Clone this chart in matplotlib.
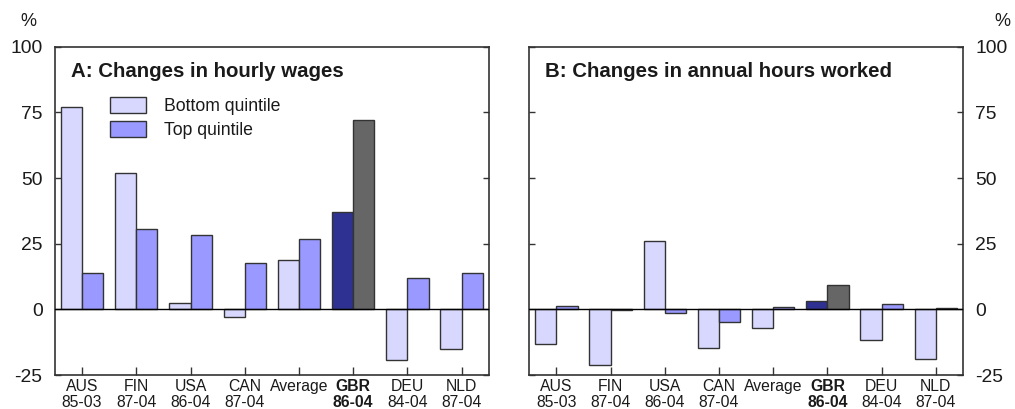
import matplotlib
matplotlib.use("Agg")
import matplotlib.pyplot as plt
import matplotlib.patches as mpatches
import numpy as np

plt.rcParams['font.family'] = ['Liberation Sans', 'DejaVu Sans']
plt.rcParams['axes.unicode_minus'] = False

labels = ["AUS\n85-03", "FIN\n87-04", "USA\n86-04", "CAN\n87-04",
          "Average", "GBR\n86-04", "DEU\n84-04", "NLD\n87-04"]
wage_bottom = [77.2, 51.8, 2.3, -2.8, 18.8, 37.0, -19.3, -15.0]
wage_top = [13.7, 30.5, 28.4, 17.7, 26.8, 72.1, 11.9, 13.8]
hours_bottom = [-13.2, -21.2, 26.1, -14.7, -7.2, 3.2, -11.7, -18.9]
hours_top = [1.3, -0.2, -1.5, -4.7, 1.0, 9.3, 2.0, 0.5]
highlight = 5  # GBR

light = '#d8d8ff'
mid = '#9999ff'
navy = '#2e3192'
grey = '#666666'
edge = '#333333'
txt = '#1a1a1a'

fig = plt.figure(figsize=(10.15, 4.09), dpi=100)
axA = fig.add_axes([0.0542, 0.0831, 0.4273, 0.8027])
axB = fig.add_axes([0.5215, 0.0831, 0.4272, 0.8027])

x = np.arange(len(labels))
w = 0.39


def panel(ax, bottom, top, title):
    c1 = [navy if i == highlight else light for i in range(len(labels))]
    c2 = [grey if i == highlight else mid for i in range(len(labels))]
    ax.bar(x - w / 2, bottom, w, color=c1, edgecolor=edge, linewidth=1, zorder=2)
    ax.bar(x + w / 2, top, w, color=c2, edgecolor=edge, linewidth=1, zorder=2)
    ax.axhline(0, color='black', linewidth=1, zorder=3)
    ax.set_xlim(-0.5, 7.5)
    ax.set_ylim(-25, 100)
    ax.set_yticks([-25, 0, 25, 50, 75, 100])
    ax.set_xticks(x)
    ax.set_xticklabels(labels, fontsize=11.3, color=txt, linespacing=1.05)
    ax.get_xticklabels()[highlight].set_fontweight('bold')
    ax.tick_params(axis='x', direction='in', length=6, width=1, color=edge, pad=3)
    ax.tick_params(axis='y', direction='in', length=4, width=1, color=edge,
                   left=True, right=True, labelsize=13.9, labelcolor=txt, pad=9)
    for s in ax.spines.values():
        s.set_color(edge)
        s.set_linewidth(1.2)
    ax.text(0.037, 0.923, title, transform=ax.transAxes, fontsize=14.7,
            fontweight='bold', color=txt, va='center', ha='left')


panel(axA, wage_bottom, wage_top, "A: Changes in hourly wages")
panel(axB, hours_bottom, hours_top, "B: Changes in annual hours worked")

axB.tick_params(axis='y', labelleft=False, labelright=True)

h1 = mpatches.Patch(facecolor=light, edgecolor=edge, linewidth=1, label='Bottom quintile')
h2 = mpatches.Patch(facecolor=mid, edgecolor=edge, linewidth=1, label='Top quintile')
leg = axA.legend(handles=[h1, h2], loc='upper left', bbox_to_anchor=(0.127, 0.847),
                 frameon=False, fontsize=12.7, handlelength=2.05, handleheight=1.02,
                 handletextpad=1.0, labelspacing=0.32, borderpad=0, borderaxespad=0)
for t in leg.get_texts():
    t.set_color(txt)

fig.text(28 / 1015, 1 - 22 / 409, '%', fontsize=13, color=txt, ha='center', va='center')
fig.text(1002 / 1015, 1 - 22 / 409, '%', fontsize=13, color=txt, ha='center', va='center')

fig.savefig('out.png', dpi=100)
